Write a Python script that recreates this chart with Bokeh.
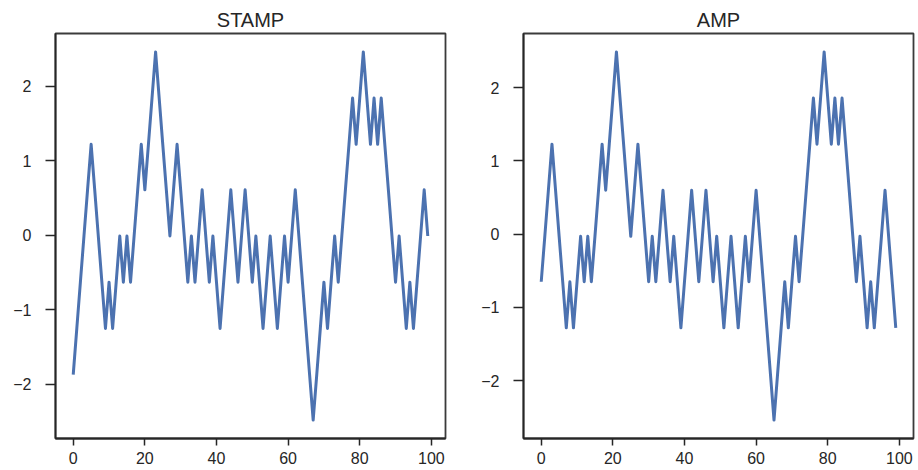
from bokeh.plotting import figure
from bokeh.layouts import row
from bokeh.models import Range1d, FixedTicker
from bokeh.embed import file_html
from bokeh.resources import INLINE

# ---- data ----
stamp_values = [
    -1.87, -1.25, -0.63, -0.01, 0.61, 1.22, 0.61, -0.01, -0.63, -1.25,
    -0.63, -1.25, -0.63, -0.01, -0.63, -0.01, -0.63, -0.01, 0.61, 1.22,
    0.61, 1.22, 1.84, 2.46, 1.84, 1.22, 0.61, -0.01, 0.61, 1.22,
    0.61, -0.01, -0.63, -0.01, -0.63, -0.01, 0.61, -0.01, -0.63, -0.01,
    -0.63, -1.25, -0.63, -0.01, 0.61, -0.01, -0.63, -0.01, 0.61, -0.01,
    -0.63, -0.01, -0.63, -1.25, -0.63, -0.01, -0.63, -1.25, -0.63, -0.01,
    -0.63, -0.01, 0.61, -0.01, -0.63, -1.25, -1.87, -2.48, -1.87, -1.25,
    -0.63, -1.25, -0.63, -0.01, -0.63, -0.01, 0.61, 1.22, 1.84, 1.22,
    1.84, 2.46, 1.84, 1.22, 1.84, 1.22, 1.84, 1.22, 0.61, -0.01,
    -0.63, -0.01, -0.63, -1.25, -0.63, -1.25, -0.63, -0.01, 0.61, -0.01,
]
amp_values = [
    -0.65, -0.03, 0.60, 1.23, 0.60, -0.03, -0.65, -1.28, -0.65, -1.28,
    -0.65, -0.03, -0.65, -0.03, -0.65, -0.03, 0.60, 1.23, 0.60, 1.23,
    1.86, 2.49, 1.86, 1.23, 0.60, -0.03, 0.60, 1.23, 0.60, -0.03,
    -0.65, -0.03, -0.65, -0.03, 0.60, -0.03, -0.65, -0.03, -0.65, -1.28,
    -0.65, -0.03, 0.60, -0.03, -0.65, -0.03, 0.60, -0.03, -0.65, -0.03,
    -0.65, -1.28, -0.65, -0.03, -0.65, -1.28, -0.65, -0.03, -0.65, -0.03,
    0.60, -0.03, -0.65, -1.28, -1.91, -2.54, -1.91, -1.28, -0.65, -1.28,
    -0.65, -0.03, -0.65, -0.03, 0.60, 1.23, 1.86, 1.23, 1.86, 2.49,
    1.86, 1.23, 1.86, 1.23, 1.86, 1.23, 0.60, -0.03, -0.65, -0.03,
    -0.65, -1.28, -0.65, -1.28, -0.65, -0.03, 0.60, -0.03, -0.65, -1.28,
]
titles = ["STAMP", "AMP"]
x_ticks = [0, 20, 40, 60, 80, 100]
y_ticks = [-2, -1, 0, 1, 2]
y_tick_labels = ["\u22122", "\u22121", "0", "1", "2"]

LINE = "#4C72B0"
DARK = "#262626"
FONT = "Liberation Sans"


def make_panel(title, values, width, border_left, border_right):
    xs = list(range(len(values)))
    xpad = 0.05 * (xs[-1] - xs[0])
    lo, hi = min(values), max(values)
    ypad = 0.05 * (hi - lo)
    p = figure(width=width, height=470, output_backend="svg", toolbar_location=None,
               x_range=Range1d(xs[0] - xpad, xs[-1] + xpad),
               y_range=Range1d(lo - ypad, hi + ypad),
               min_border_left=border_left, min_border_right=border_right,
               min_border_top=33, min_border_bottom=32)
    p.line(xs, values, line_color=LINE, line_width=3, line_join="round")
    p.title.text = title
    p.title.align = "center"
    p.title.text_font = FONT
    p.title.text_font_size = "20px"
    p.title.text_font_style = "normal"
    p.title.text_color = DARK
    p.title.standoff = 6
    p.grid.visible = False
    p.outline_line_color = DARK
    p.outline_line_width = 1.8
    p.outline_line_alpha = 0.9
    p.background_fill_color = "white"
    p.border_fill_color = "white"

    ax = p.xaxis[0]
    ax.ticker = FixedTicker(ticks=x_ticks)
    ax.major_tick_out = 7
    ax.major_tick_in = 0
    ax.minor_tick_out = 0
    ax.minor_tick_in = 0
    ax.major_label_standoff = 6
    ax.major_label_text_font = FONT
    ax.major_label_text_font_size = "16px"
    ax.major_label_text_color = DARK
    ax.axis_line_color = DARK
    ax.axis_line_width = 1.8
    ax.major_tick_line_color = DARK
    ax.major_tick_line_width = 1.5

    ay = p.yaxis[0]
    ay.ticker = FixedTicker(ticks=y_ticks)
    ay.major_label_overrides = {t: l for t, l in zip(y_ticks, y_tick_labels)}
    ay.major_tick_out = 10
    ay.major_tick_in = 0
    ay.minor_tick_out = 0
    ay.minor_tick_in = 0
    ay.major_label_standoff = 14
    ay.major_label_text_font = FONT
    ay.major_label_text_font_size = "16px"
    ay.major_label_text_color = DARK
    ay.axis_line_color = DARK
    ay.axis_line_width = 1.8
    ay.major_tick_line_color = DARK
    ay.major_tick_line_width = 1.5
    return p


p1 = make_panel(titles[0], stamp_values, 447, 55, 2)
p2 = make_panel(titles[1], amp_values, 469, 76, 3)

layout = row(p1, p2)
open("out.html", "w").write(file_html(layout, INLINE))
